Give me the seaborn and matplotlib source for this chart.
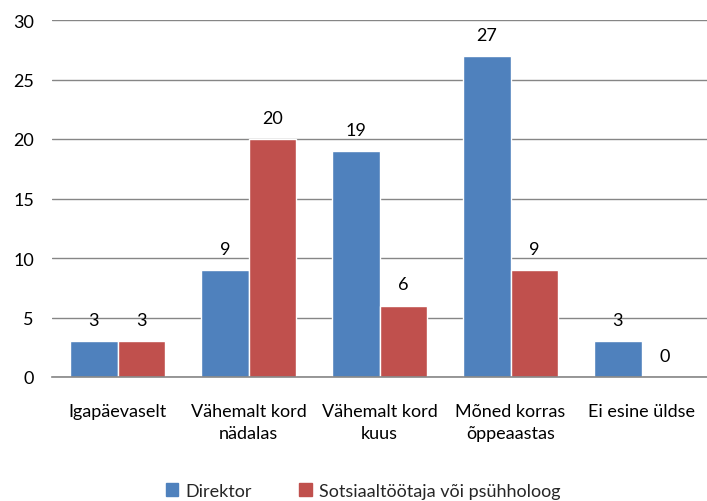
import matplotlib
matplotlib.use("Agg")
import matplotlib.pyplot as plt
import seaborn as sns
import pandas as pd
from matplotlib.patches import Patch

categories = ["Igapäevaselt", "Vähemalt kord\nnädalas", "Vähemalt kord\nkuus",
              "Mõned korras\nõppeaastas", "Ei esine üldse"]
series_names = ["Direktor", "Sotsiaaltöötaja või psühholoog"]
direktor = [3, 9, 19, 27, 3]
sotsiaal = [3, 20, 6, 9, 0]
colors = ["#4F81BD", "#C0504D"]

df = pd.DataFrame({
    "cat": categories * 2,
    "series": [series_names[0]] * 5 + [series_names[1]] * 5,
    "value": direktor + sotsiaal,
})

sns.set_theme(style="white")
plt.rcParams["font.family"] = ["Lato", "DejaVu Sans"]
FS = 13

fig = plt.figure(figsize=(7.07, 5.02), dpi=100)
ax = fig.add_axes([52 / 707, 1 - 378 / 502, 655 / 707, (378 - 21) / 502])

sns.barplot(data=df, x="cat", y="value", hue="series", palette=colors,
            width=0.72, edgecolor="white", linewidth=1, ax=ax, legend=False,
            saturation=1)

for cont in ax.containers:
    ax.bar_label(cont, padding=9.5, fontsize=FS, color="black")

ax.set_ylim(0, 30)
ax.set_yticks(range(0, 31, 5))
ax.yaxis.grid(True, color="#868686", linewidth=1)
ax.set_axisbelow(True)
for s in ["top", "right", "left"]:
    ax.spines[s].set_visible(False)
ax.spines["bottom"].set_color("#868686")
ax.spines["bottom"].set_linewidth(1.2)
ax.tick_params(axis="both", length=0, labelsize=FS, colors="black")
ax.tick_params(axis="y", pad=13)
ax.tick_params(axis="x", pad=19)
plt.setp(ax.get_xticklabels(), linespacing=1.4)
ax.set_xlabel("")
ax.set_ylabel("")
ax.set_xlim(-0.5, 4.5)

handles = [Patch(color=c, label=n) for c, n in zip(colors, series_names)]
fig.legend(handles=handles, loc="center", bbox_to_anchor=(363 / 707, 1 - 492 / 502),
           ncol=2, frameon=False, fontsize=FS, handlelength=0.7, handleheight=0.7,
           handletextpad=0.4, columnspacing=2.6)

fig.savefig("out.png", dpi=100)
